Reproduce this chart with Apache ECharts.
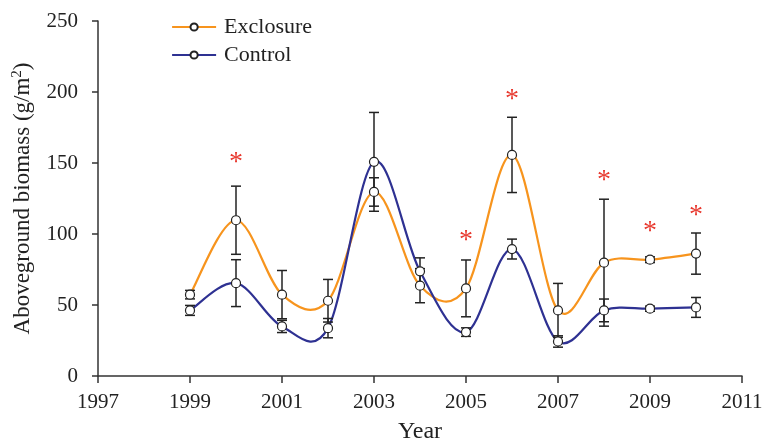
<!DOCTYPE html>
<html>
<head>
<meta charset="utf-8">
<script src="https://cdn.jsdelivr.net/npm/echarts@6/dist/echarts.min.js"></script>
<style>
html,body{margin:0;padding:0;background:#fff;}
#chart{width:765px;height:443px;}
</style>
</head>
<body>
<div id="chart"></div>
<script>
var years = [1999, 2000, 2001, 2002, 2003, 2004, 2005, 2006, 2007, 2008, 2009, 2010];
var exclosure = [57.3, 109.7, 57.3, 53.0, 129.6, 63.6, 61.7, 155.7, 46.2, 79.8, 81.9, 86.2];
var exclosureErr = [3, 24, 17, 15, 10, 12, 20, 26.5, 19, 44.7, 2, 14.5];
var control = [46.2, 65.4, 34.9, 33.7, 150.8, 73.7, 30.9, 89.4, 24.3, 46.2, 47.4, 48.3];
var controlErr = [3.5, 16.5, 4.3, 6.8, 34.8, 9.5, 3, 7, 4, 8, 1.8, 7];
var starYears = [2000, 2005, 2006, 2008, 2009, 2010];
var starValues = [154.8, 99.8, 198.5, 141.9, 105.9, 117.2];
var xTickBase = 1997;

var FONT = 'Liberation Serif';
var ORANGE = '#F7941D';
var BLUE = '#2E3192';

function pts(vals) {
  return years.map(function (y, i) { return [y - xTickBase, vals[i]]; });
}
function errs(vals, e) {
  return years.map(function (y, i) { return [y - xTickBase, vals[i] - e[i], vals[i] + e[i]]; });
}
function errRender(params, api) {
  var lo = api.coord([api.value(0), api.value(1)]);
  var hi = api.coord([api.value(0), api.value(2)]);
  var hw = 5;
  var st = { stroke: '#222', lineWidth: 1.5 };
  return {
    type: 'group',
    children: [
      { type: 'line', shape: { x1: lo[0], y1: lo[1], x2: hi[0], y2: hi[1] }, style: st },
      { type: 'line', shape: { x1: lo[0] - hw, y1: lo[1], x2: lo[0] + hw, y2: lo[1] }, style: st },
      { type: 'line', shape: { x1: hi[0] - hw, y1: hi[1], x2: hi[0] + hw, y2: hi[1] }, style: st }
    ]
  };
}
// Excel-style smoothed line (cardinal spline through the data points, mapped by the axes)
function curveRender(vals, color) {
  return function (params, api) {
    if (params.dataIndex !== 0) return null;
    var p = pts(vals).map(function (d) { return api.coord(d); });
    var n = p.length;
    var path = [];
    for (var i = 0; i < n - 1; i++) {
      var p0 = p[Math.max(i - 1, 0)], p1 = p[i], p2 = p[i + 1], p3 = p[Math.min(i + 2, n - 1)];
      var t = 1 / 6;
      var c1 = [p1[0] + (p2[0] - p0[0]) * t, p1[1] + (p2[1] - p0[1]) * t];
      var c2 = [p2[0] - (p3[0] - p1[0]) * t, p2[1] - (p3[1] - p1[1]) * t];
      if (i === 0) path.push('M' + p1[0] + ' ' + p1[1]);
      path.push('C' + c1[0] + ' ' + c1[1] + ' ' + c2[0] + ' ' + c2[1] + ' ' + p2[0] + ' ' + p2[1]);
    }
    return {
      type: 'path',
      shape: { pathData: path.join(' ') },
      style: { fill: null, stroke: color, lineWidth: 2.2 }
    };
  };
}

var chart = echarts.init(document.getElementById('chart'), null, { renderer: 'canvas' });
chart.setOption({
  animation: false,
  backgroundColor: '#fff',
  textStyle: { fontFamily: FONT },
  grid: { left: 98, right: 23, top: 21, bottom: 67, containLabel: false, outerBoundsMode: 'none' },
  legend: {
    orient: 'vertical',
    left: 171,
    top: 16,
    padding: 0,
    itemWidth: 44,
    itemHeight: 9,
    itemGap: 6,
    textStyle: { fontFamily: FONT, fontSize: 22, color: '#222', padding: [0, 0, 0, 3] },
    data: [
      { name: 'Exclosure', lineStyle: { opacity: 1, color: ORANGE, width: 2.2 } },
      { name: 'Control', lineStyle: { opacity: 1, color: BLUE, width: 2.2 } }
    ]
  },
  xAxis: {
    type: 'value',
    min: 0,
    max: 14,
    interval: 2,
    name: 'Year',
    nameLocation: 'middle',
    nameGap: 44,
    nameTextStyle: { fontFamily: FONT, fontSize: 24, color: '#222' },
    axisLine: { lineStyle: { color: '#333', width: 1.5 } },
    axisTick: { show: true, length: 7, lineStyle: { color: '#333', width: 1.5 } },
    axisLabel: {
      fontFamily: FONT, fontSize: 21, color: '#222', margin: 16,
      formatter: function (v) { return String(v + xTickBase); }
    },
    splitLine: { show: false }
  },
  yAxis: {
    type: 'value',
    min: 0,
    max: 250,
    interval: 50,
    name: 'Aboveground biomass (g/m{sup|2})',
    nameLocation: 'middle',
    nameRotate: 90,
    nameGap: 63,
    nameTextStyle: {
      fontFamily: FONT, fontSize: 23, color: '#222',
      rich: { sup: { fontFamily: FONT, fontSize: 15, color: '#222', padding: [0, 0, 10, 0] } }
    },
    axisLine: { show: true, lineStyle: { color: '#333', width: 1.5 } },
    axisTick: { show: true, length: 6, lineStyle: { color: '#333', width: 1.5 } },
    axisLabel: { fontFamily: FONT, fontSize: 21, color: '#222', margin: 20 },
    splitLine: { show: false }
  },
  series: [
    {
      type: 'custom', name: 'curveE', renderItem: curveRender(exclosure, ORANGE), data: pts(exclosure), z: 1,
      silent: true
    },
    {
      type: 'custom', name: 'curveC', renderItem: curveRender(control, BLUE), data: pts(control), z: 1,
      silent: true
    },
    {
      type: 'custom', name: 'errE', renderItem: errRender, data: errs(exclosure, exclosureErr), z: 2,
      encode: { x: 0, y: [1, 2] }, silent: true
    },
    {
      type: 'custom', name: 'errC', renderItem: errRender, data: errs(control, controlErr), z: 2,
      encode: { x: 0, y: [1, 2] }, silent: true
    },
    {
      name: 'Exclosure', type: 'line', data: pts(exclosure), z: 3,
      lineStyle: { color: ORANGE, width: 2.2, opacity: 0 },
      itemStyle: { color: '#fff', borderColor: '#222', borderWidth: 1.2 },
      symbol: 'circle', symbolSize: 9
    },
    {
      name: 'Control', type: 'line', data: pts(control), z: 3,
      lineStyle: { color: BLUE, width: 2.2, opacity: 0 },
      itemStyle: { color: '#fff', borderColor: '#222', borderWidth: 1.2 },
      symbol: 'circle', symbolSize: 9
    },
    {
      type: 'custom', name: 'stars', z: 4, silent: true,
      data: starYears.map(function (y, i) { return [y - xTickBase, starValues[i]]; }),
      renderItem: function (params, api) {
        var p = api.coord([api.value(0), api.value(1)]);
        return {
          type: 'text',
          style: {
            text: '*', x: p[0], y: p[1] + 6, align: 'center', verticalAlign: 'middle',
            fill: '#E8392F', fontSize: 28, fontFamily: FONT
          }
        };
      }
    }
  ]
});
</script>
</body>
</html>
